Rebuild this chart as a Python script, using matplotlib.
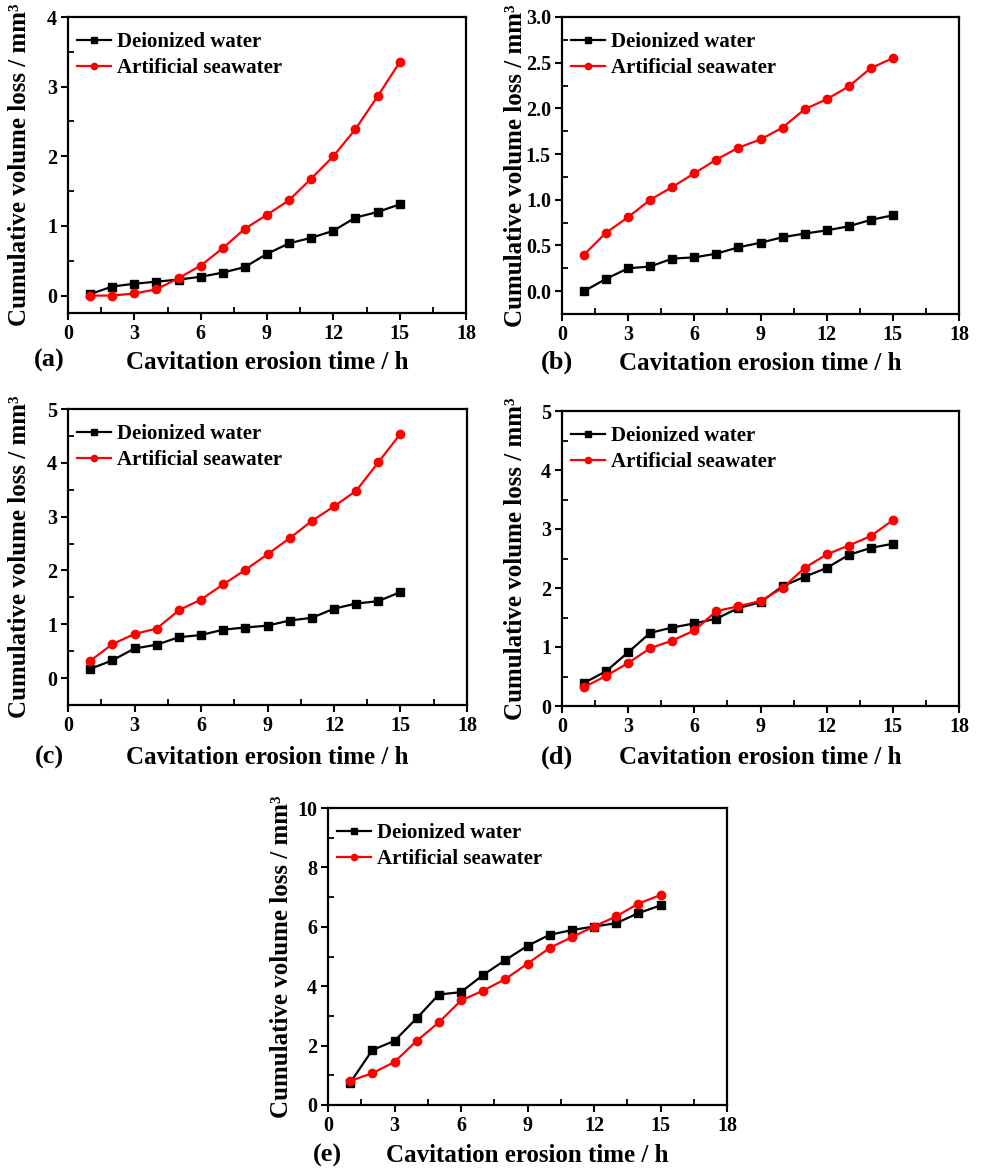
import matplotlib
matplotlib.use("Agg")
import matplotlib.pyplot as plt
from matplotlib.ticker import MultipleLocator

plt.rcParams['font.family'] = ['Liberation Serif', 'DejaVu Serif']
plt.rcParams['font.weight'] = 'bold'

time_h = [1, 2, 3, 4, 5, 6, 7, 8, 9, 10, 11, 12, 13, 14, 15]

a_dw = [0.02, 0.13, 0.17, 0.20, 0.23, 0.27, 0.33, 0.41, 0.60, 0.75, 0.83, 0.93, 1.12, 1.20, 1.31]
a_sw = [0.00, 0.00, 0.03, 0.09, 0.25, 0.43, 0.68, 0.96, 1.16, 1.37, 1.68, 2.00, 2.39, 2.86, 3.35]

b_dw = [0.00, 0.135, 0.25, 0.27, 0.356, 0.37, 0.41, 0.48, 0.53, 0.59, 0.63, 0.665, 0.71, 0.78, 0.83]
b_sw = [0.40, 0.64, 0.81, 1.00, 1.14, 1.29, 1.44, 1.57, 1.66, 1.79, 1.99, 2.10, 2.24, 2.44, 2.55]

c_dw = [0.17, 0.33, 0.55, 0.62, 0.76, 0.80, 0.90, 0.94, 0.975, 1.07, 1.12, 1.29, 1.385, 1.43, 1.60]
c_sw = [0.32, 0.63, 0.82, 0.92, 1.26, 1.46, 1.74, 2.01, 2.30, 2.60, 2.92, 3.19, 3.48, 4.01, 4.54]

d_dw = [0.39, 0.59, 0.91, 1.24, 1.33, 1.40, 1.48, 1.66, 1.76, 2.03, 2.19, 2.34, 2.56, 2.68, 2.75]
d_sw = [0.32, 0.51, 0.73, 0.98, 1.11, 1.28, 1.61, 1.69, 1.78, 2.00, 2.34, 2.57, 2.72, 2.88, 3.15]

e_dw = [0.75, 1.85, 2.16, 2.92, 3.72, 3.80, 4.38, 4.88, 5.36, 5.73, 5.89, 6.01, 6.12, 6.46, 6.72]
e_sw = [0.81, 1.07, 1.45, 2.16, 2.78, 3.52, 3.85, 4.24, 4.76, 5.29, 5.65, 6.01, 6.35, 6.78, 7.07]

series_labels = ["Deionized water", "Artificial seawater"]
panel_labels = ["(a)", "(b)", "(c)", "(d)", "(e)"]
xlabel = "Cavitation erosion time / h"
ylabel = "Cumulative volume loss / mm\u00b3"

W, H = 984, 1169
fig = plt.figure(figsize=(W / 100, H / 100), dpi=100)

# (left, top, right, bottom) px, ylim, y step, format, panel-label pos, xlabel y, ylabel x
panels = [
    ((68, 17, 466, 313), (-0.25, 4), 1, "{:.0f}", (49, 360), 362, 20, a_dw, a_sw),
    ((562, 17, 959, 314), (-0.25, 3.0), 0.5, "{:.1f}", (557, 362), 364, 515, b_dw, b_sw),
    ((68, 409, 467, 705), (-0.5, 5), 1, "{:.0f}", (49, 757), 757, 20, c_dw, c_sw),
    ((562, 411, 959, 706), (0, 5), 1, "{:.0f}", (557, 757), 757, 515, d_dw, d_sw),
    ((328, 808, 727, 1105), (0, 10), 2, "{:.0f}", (327, 1155), 1155, 282, e_dw, e_sw),
]

for i, (box, ylim, ystep, fmt, plpos, xly, ylx, dw, sw) in enumerate(panels):
    l, t, r, b = box
    ax = fig.add_axes([l / W, 1 - b / H, (r - l) / W, (b - t) / H])
    ax.plot(time_h, dw, color='black', marker='s', ms=5.5, lw=1.6, label=series_labels[0])
    ax.plot(time_h, sw, color='red', marker='o', ms=6, lw=1.6, label=series_labels[1])
    ax.set_xlim(0, 18)
    ax.set_ylim(*ylim)
    ax.xaxis.set_major_locator(MultipleLocator(3))
    ax.xaxis.set_minor_locator(MultipleLocator(1.5))
    ax.yaxis.set_major_locator(MultipleLocator(ystep))
    ax.yaxis.set_minor_locator(MultipleLocator(ystep / 2))
    yt = [v for v in ax.get_yticks() if ylim[0] - 1e-9 <= v <= ylim[1] + 1e-9]
    ax.set_yticks(yt)
    ax.set_yticklabels([fmt.format(v) for v in yt])
    ax.tick_params(which='major', direction='out', length=5, width=1.5, labelsize=14.5, pad=3)
    ax.tick_params(which='minor', direction='in', length=4, width=1.3)
    for s in ax.spines.values():
        s.set_linewidth(1.6)
    for lab in ax.get_xticklabels() + ax.get_yticklabels():
        lab.set_fontweight('bold')
    ax.set_xlabel(xlabel, fontsize=18, fontweight='bold', va='center')
    ax.xaxis.set_label_coords(0.5, (b - xly) / (b - t))
    ax.set_ylabel(ylabel, fontsize=18, fontweight='bold', va='center')
    ax.yaxis.set_label_coords((ylx - l) / (r - l), 0.5)
    ax.legend(loc='upper left', bbox_to_anchor=(9 / (r - l), 1 - 15 / (b - t)),
              frameon=False, borderpad=0, borderaxespad=0, handlelength=1.65,
              handletextpad=0.25, labelspacing=0.3, markerscale=0.75,
              prop={'family': ['Liberation Serif'], 'weight': 'bold', 'size': 15})
    fig.text(plpos[0] / W, 1 - plpos[1] / H, panel_labels[i], fontsize=19,
             fontweight='bold', ha='center', va='center')

fig.savefig("out.png", dpi=100)
